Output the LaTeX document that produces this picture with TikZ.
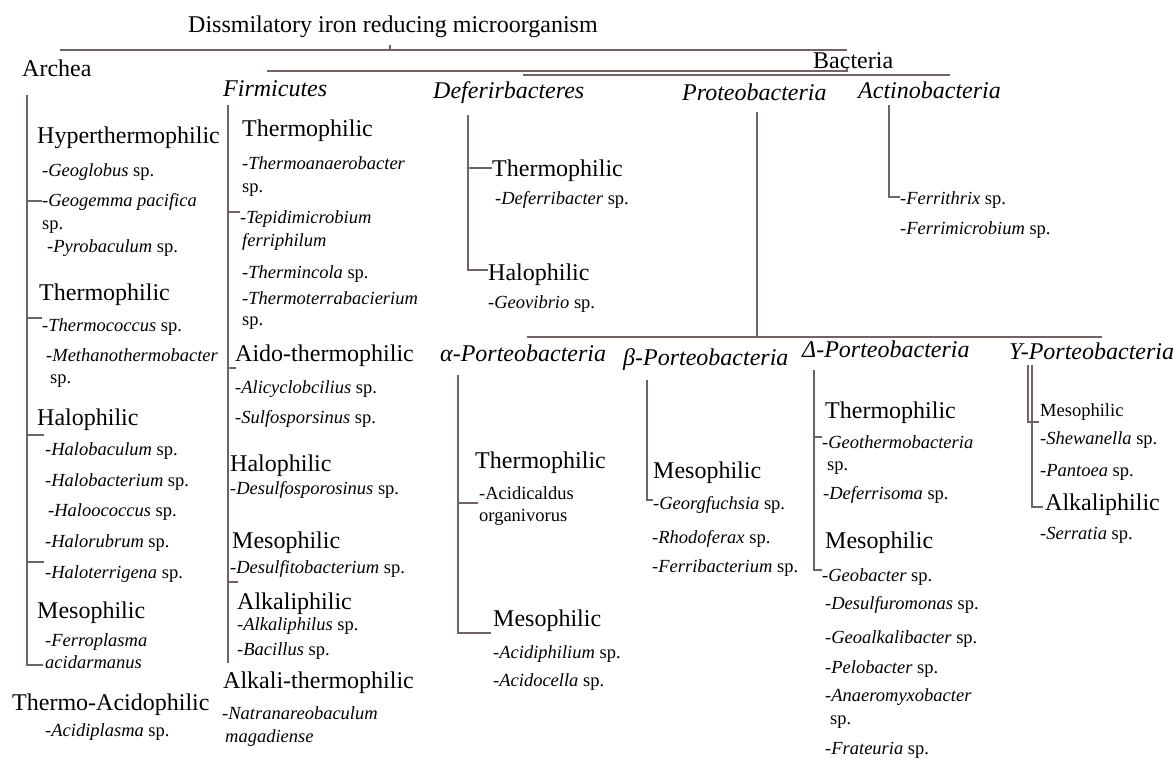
\documentclass[tikz,border=0pt]{standalone}
\usepackage{fontspec}
\setmainfont{Liberation Serif}
\definecolor{lncol}{RGB}{112,100,98}
\newcommand{\gen}[1]{\textit{#1}}
\begin{document}
\begin{tikzpicture}[x=1pt,y=-1pt,
  ttl/.style={anchor=base west,inner sep=0pt,font=\fontsize{24}{28}\selectfont},
  grp/.style={anchor=base west,inner sep=0pt,font=\fontsize{24}{28}\selectfont\itshape},
  cat/.style={anchor=base west,inner sep=0pt,font=\fontsize{24}{28}\selectfont},
  scat/.style={anchor=base west,inner sep=0pt,font=\fontsize{18.5}{22}\selectfont},
  spc/.style={anchor=base west,inner sep=0pt,font=\fontsize{18.5}{22}\selectfont},
  ln/.style={draw=lncol,line width=1.4pt}]
\useasboundingbox (0,0) rectangle (1174,768);

% ---------- top level ----------
\node[ttl] (title) at (188,33) {Dissmilatory iron reducing microorganism};
\node[ttl] (bact) at (813,68) {Bacteria};
\node[ttl] (arch) at (22,77) {Archea};
\node[grp] (firm) at (223,96) {Firmicutes};
\node[grp] (defe) at (433,98) {Deferirbacteres};
\node[grp] (prot) at (682,100) {Proteobacteria};
\node[grp] (acti) at (858,98) {Actinobacteria};

\coordinate (t1a) at (60,50); \coordinate (t1b) at (847,50);
\coordinate (t1m) at (390,50); \coordinate (t1u) at (390,45);
\coordinate (t2a) at (267,71); \coordinate (t2b) at (847,71); \coordinate (t2u) at (847,68);
\coordinate (t3a) at (523,75); \coordinate (t3b) at (950,75);
\draw[ln] (t1a) -- (t1b);
\draw[ln] (t1m) -- (t1u);
\draw[ln] (t2a) -- (t2b) -- (t2u);
\draw[ln] (t3a) -- (t3b);

% ---------- Archea ----------
\coordinate (a0) at (27,95); \coordinate (a1) at (27,665); \coordinate (a2) at (43,665);
\draw[ln] (a0) -- (a1) -- (a2);
\foreach \y/\e [count=\i] in {201/42,318/42,435/44,562/44}
  {\coordinate (at\i a) at (27,\y); \coordinate (at\i b) at (\e,\y); \draw[ln] (at\i a) -- (at\i b);}
\node[cat] (aHyp) at (37,143) {Hyperthermophilic};
\node[spc] (aGeo) at (42,176) {-\gen{Geoglobus} sp.};
\node[spc] (aGem) at (42,206) {-\gen{Geogemma pacifica}};
\node[spc] (aGem2) at (42,229) {sp.};
\node[spc] (aPyr) at (47,252) {-\gen{Pyrobaculum} sp.};
\node[cat] (aThe) at (39,300) {Thermophilic};
\node[spc] (aTco) at (42,331) {-\gen{Thermococcus} sp.};
\node[spc] (aMet) at (46,361) {-\gen{Methanothermobacter}};
\node[spc] (aMet2) at (50,383) {sp.};
\node[cat] (aHal) at (37,425) {Halophilic};
\node[spc] (aHb1) at (45,455) {-\gen{Halobaculum} sp.};
\node[spc] (aHb2) at (45,486) {-\gen{Halobacterium} sp.};
\node[spc] (aHb3) at (48,516) {-\gen{Haloococcus} sp.};
\node[spc] (aHb4) at (45,547) {-\gen{Halorubrum} sp.};
\node[spc] (aHb5) at (45,578) {-\gen{Haloterrigena} sp.};
\node[cat] (aMes) at (37,618) {Mesophilic};
\node[spc] (aFer) at (45,646) {-\gen{Ferroplasma}};
\node[spc] (aFer2) at (45,668) {\gen{acidarmanus}};
\node[cat] (aTA) at (12,710) {Thermo-Acidophilic};
\node[spc] (aAci) at (45,736) {-\gen{Acidiplasma} sp.};

% ---------- Firmicutes ----------
\coordinate (f0) at (228,105); \coordinate (f1) at (228,663);
\draw[ln] (f0) -- (f1);
\foreach \y/\e [count=\i] in {212/240,368/236,582/238}
  {\coordinate (ft\i a) at (228,\y); \coordinate (ft\i b) at (\e,\y); \draw[ln] (ft\i a) -- (ft\i b);}
\node[cat] (fThe) at (242,136) {Thermophilic};
\node[spc] (fTan) at (242,169) {-\gen{Thermoanaerobacter}};
\node[spc] (fTan2) at (242,192) {sp.};
\node[spc] (fTep) at (240,223) {-\gen{Tepidimicrobium}};
\node[spc] (fTep2) at (242,246) {\gen{ferriphilum}};
\node[spc] (fTin) at (242,278) {-\gen{Thermincola} sp.};
\node[spc] (fTtr) at (242,304) {-\gen{Thermoterrabacierium}};
\node[spc] (fTtr2) at (242,325) {sp.};
\node[cat] (fAid) at (235,361) {Aido-thermophilic};
\node[spc] (fAli) at (235,393) {-\gen{Alicyclobcilius} sp.};
\node[spc] (fSul) at (235,423) {-\gen{Sulfosporsinus} sp.};
\node[cat] (fHal) at (230,471) {Halophilic};
\node[spc] (fDsp) at (230,494) {-\gen{Desulfosporosinus} sp.};
\node[cat] (fMes) at (232,548) {Mesophilic};
\node[spc] (fDfb) at (230,573) {-\gen{Desulfitobacterium} sp.};
\node[cat] (fAlk) at (237,609) {Alkaliphilic};
\node[spc] (fAlp) at (237,630) {-\gen{Alkaliphilus} sp.};
\node[spc] (fBac) at (237,655) {-\gen{Bacillus} sp.};
\node[cat] (fAT) at (223,688) {Alkali-thermophilic};
\node[spc] (fNat) at (222,719) {-\gen{Natranareobaculum}};
\node[spc] (fNat2) at (225,742) {\gen{magadiense}};

% ---------- Deferirbacteres ----------
\coordinate (d0) at (468,115); \coordinate (d1) at (468,270); \coordinate (d2) at (488,270);
\coordinate (dt1) at (468,168); \coordinate (dt2) at (492,168);
\draw[ln] (d0) -- (d1) -- (d2);
\draw[ln] (dt1) -- (dt2);
\node[cat] (dThe) at (492,176) {Thermophilic};
\node[spc] (dDef) at (495,204) {-\gen{Deferribacter} sp.};
\node[cat] (dHal) at (488,280) {Halophilic};
\node[spc] (dGeo) at (488,308) {-\gen{Geovibrio} sp.};

% ---------- Actinobacteria ----------
\coordinate (c0) at (889,105); \coordinate (c1) at (889,197); \coordinate (c2) at (900,197);
\draw[ln] (c0) -- (c1) -- (c2);
\node[spc] (cFth) at (900,204) {-\gen{Ferrithrix} sp.};
\node[spc] (cFmi) at (900,234) {-\gen{Ferrimicrobium} sp.};

% ---------- Proteobacteria ----------
\coordinate (p0) at (757,112); \coordinate (p1) at (757,337);
\coordinate (pha) at (527,337); \coordinate (phb) at (1102,337);
\draw[ln] (p0) -- (p1);
\draw[ln] (pha) -- (phb);

\node[grp] (alp) at (440,361) {α-Porteobacteria};
\node[grp] (bet) at (623,365) {β-Porteobacteria};
\node[grp] (del) at (802,357) {Δ-Porteobacteria};
\node[grp] (gam) at (1009,359) {Y-Porteobacteria};

% alpha
\coordinate (al0) at (458,375); \coordinate (al1) at (458,633); \coordinate (al2) at (491,633);
\coordinate (alt1) at (458,503); \coordinate (alt2) at (478,503);
\draw[ln] (al0) -- (al1) -- (al2);
\draw[ln] (alt1) -- (alt2);
\node[cat] (alThe) at (475,468) {Thermophilic};
\node[spc] (alAcd) at (479,499) {-Acidicaldus};
\node[spc] (alAcd2) at (479,521) {organivorus};
\node[cat] (alMes) at (493,626) {Mesophilic};
\node[spc] (alAph) at (493,658) {-\gen{Acidiphilium} sp.};
\node[spc] (alAcc) at (493,686) {-\gen{Acidocella} sp.};

% beta
\coordinate (be0) at (647,380); \coordinate (be1) at (647,500); \coordinate (be2) at (653,500);
\draw[ln] (be0) -- (be1) -- (be2);
\node[cat] (beMes) at (653,478) {Mesophilic};
\node[spc] (beGeo) at (653,509) {-\gen{Georgfuchsia} sp.};
\node[spc] (beRho) at (652,543) {-\gen{Rhodoferax} sp.};
\node[spc] (beFer) at (652,572) {-\gen{Ferribacterium} sp.};

% delta
\coordinate (de0) at (814,370); \coordinate (de1) at (814,570); \coordinate (de2) at (822,570);
\coordinate (det1) at (814,437); \coordinate (det2) at (822,437);
\draw[ln] (de0) -- (de1) -- (de2);
\draw[ln] (det1) -- (det2);
\node[cat] (deThe) at (825,418) {Thermophilic};
\node[spc] (deGth) at (822,448) {-\gen{Geothermobacteria}};
\node[spc] (deGth2) at (827,470) {sp.};
\node[spc] (deDfs) at (823,499) {-\gen{Deferrisoma} sp.};
\node[cat] (deMes) at (825,548) {Mesophilic};
\node[spc] (deGbc) at (822,581) {-\gen{Geobacter} sp.};
\node[spc] (deDsm) at (825,609) {-\gen{Desulfuromonas} sp.};
\node[spc] (deGak) at (825,643) {-\gen{Geoalkalibacter} sp.};
\node[spc] (dePel) at (825,673) {-\gen{Pelobacter} sp.};
\node[spc] (deAnm) at (825,701) {-\gen{Anaeromyxobacter}};
\node[spc] (deAnm2) at (830,724) {sp.};
\node[spc] (deFra) at (825,754) {-\gen{Frateuria} sp.};

% gamma
\coordinate (ga0) at (1028,365); \coordinate (ga1) at (1028,422); \coordinate (ga2) at (1039,422);
\coordinate (gb0) at (1032,365); \coordinate (gb1) at (1032,507); \coordinate (gb2) at (1043,507);
\draw[ln] (ga0) -- (ga1) -- (ga2);
\draw[ln] (gb0) -- (gb1) -- (gb2);
\node[scat] (gaMes) at (1040,416) {Mesophilic};
\node[spc] (gaShe) at (1040,444) {-\gen{Shewanella} sp.};
\node[spc] (gaPan) at (1040,476) {-\gen{Pantoea} sp.};
\node[cat] (gaAlk) at (1045,510) {Alkaliphilic};
\node[spc] (gaSer) at (1040,539) {-\gen{Serratia} sp.};
\end{tikzpicture}
\end{document}
